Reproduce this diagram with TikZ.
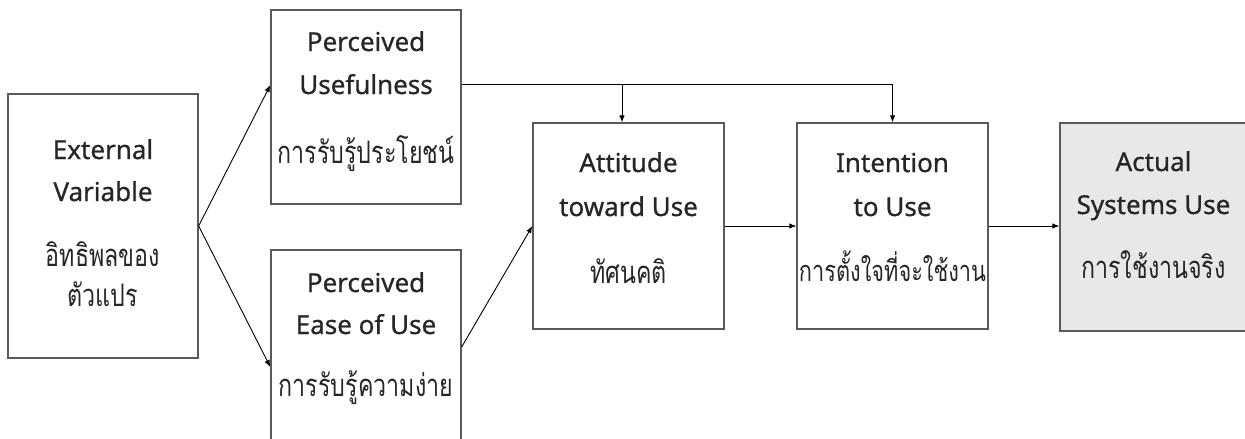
\documentclass[tikz,border=0pt]{standalone}
\usepackage{fontspec}
\setmainfont{Noto Sans}
\newfontfamily\latfont{Noto Sans}[FakeBold=0.8]
\newfontfamily\thaifont[Script=Thai,FakeStretch=0.75]{Loma}
\usetikzlibrary{arrows.meta}
\definecolor{boxline}{HTML}{5A5A5A}
\definecolor{ink}{HTML}{262626}
\definecolor{actfill}{HTML}{E8E8EA}
\begin{document}
\begin{tikzpicture}[x=1pt,y=-1pt,
  box/.style={draw=boxline, line width=1.3pt, inner sep=0pt},
  en/.style={anchor=base, text=ink, font=\latfont\fontsize{26}{30}\selectfont, inner sep=0pt},
  th/.style={anchor=base, text=ink, font=\thaifont\fontsize{31}{36}\selectfont, inner sep=0pt},
  wire/.style={draw=black, line width=0.9pt},
  link/.style={wire, -{Latex[length=7pt,width=5.5pt]}}]
\useasboundingbox (0,0) rectangle (1245,439);
\begin{scope}
\clip (0,0) rectangle (1245,439);

% boxes
\node[box, minimum width=190pt, minimum height=264pt] (ext) at (103,226) {};
\node[box, minimum width=190pt, minimum height=194pt] (pu) at (366,107) {};
\node[box, minimum width=190pt, minimum height=220pt] (peou) at (366,360) {};
\node[box, minimum width=191pt, minimum height=206pt] (att) at (628.5,226) {};
\node[box, minimum width=191pt, minimum height=206pt] (int) at (892.5,226) {};
\node[box, fill=actfill, minimum width=187pt, minimum height=208pt] (act) at (1153.5,227) {};

% labels
\node[en] (extA) at (103,159) {External};
\node[en] (extB) at (103,201) {Variable};
\node[th] (extC) at (103,266) {อิทธิพลของ};
\node[th] (extD) at (103,306) {ตัวแปร};

\node[en] (puA) at (366,51) {Perceived};
\node[en] (puB) at (366,94) {Usefulness};
\node[th] (puC) at (366,163) {การรับรู้ประโยชน์};

\node[en] (peouA) at (366,292) {Perceived};
\node[en] (peouB) at (366,334) {Ease of Use};
\node[th] (peouC) at (366,396) {การรับรู้ความง่าย};

\node[en] (attA) at (628.5,172) {Attitude};
\node[en] (attB) at (628.5,216) {toward Use};
\node[th] (attC) at (628.5,283) {ทัศนคติ};

\node[en] (intA) at (892.5,172) {Intention};
\node[en] (intB) at (892.5,216) {to Use};
\node[th, font=\thaifont\fontsize{29}{34}\selectfont] (intC) at (892.5,281) {การตั้งใจที่จะใช้งาน};

\node[en] (actA) at (1153.5,171) {Actual};
\node[en] (actB) at (1153.5,214) {Systems Use};
\node[th] (actC) at (1153.5,278) {การใช้งานจริง};

% connectors
\coordinate (j1) at (622,84);
\coordinate (j2) at (892.5,84);
\draw[link] (ext.east) -- ([yshift=22pt]pu.west);
\draw[link] (ext.east) -- ([yshift=-7pt]peou.west);
\draw[wire] ([yshift=23pt]pu.east) -- (j2);
\draw[link] (j1) -- (j1 |- att.north);
\draw[link] (j2) -- (int.north);
\draw[link] ([yshift=13pt]peou.east) -- (att.west);
\draw[link] (att.east) -- (int.west);
\draw[link] (int.east) -- (int.east -| act.west);
\end{scope}
\end{tikzpicture}
\end{document}
